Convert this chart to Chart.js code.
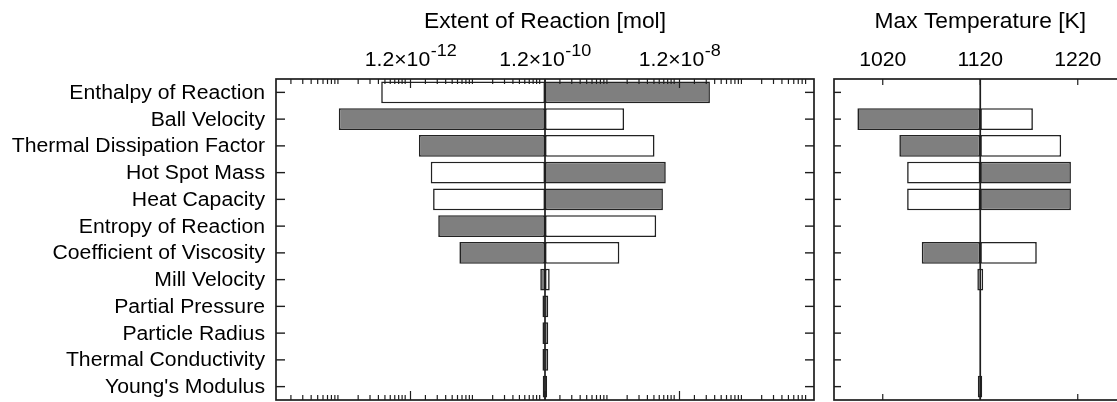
<!DOCTYPE html>
<html>
<head>
<meta charset="utf-8">
<script src="https://cdn.jsdelivr.net/npm/chart.js@4.4.0/dist/chart.umd.min.js"></script>
<style>
html, body { margin:0; padding:0; overflow:hidden; background:#fff; }
#wrap { position:relative; width:1117px; height:402px; overflow:hidden; }
#left { position:absolute; left:0; top:0; }
#right { position:absolute; left:822px; top:0; }
</style>
</head>
<body>
<div id="wrap">
<canvas id="left" width="822" height="402"></canvas>
<canvas id="right" width="320" height="402"></canvas>
</div>
<script>
// parametros (de cima para baixo)
const parametros = [
  "Enthalpy of Reaction", "Ball Velocity", "Thermal Dissipation Factor",
  "Hot Spot Mass", "Heat Capacity", "Entropy of Reaction",
  "Coefficient of Viscosity", "Mill Velocity", "Partial Pressure",
  "Particle Radius", "Thermal Conductivity", "Young's Modulus"
];

// Extent of Reaction [mol] - barras [inicio, fim]
const extentBase = 1.2e-10;
const extentGray = [
  [1.2e-10, 3.4e-8], [1.03e-13, 1.2e-10], [1.6e-12, 1.2e-10],
  [1.2e-10, 7.5e-9], [1.2e-10, 6.8e-9], [3.1e-12, 1.2e-10],
  [6.4e-12, 1.2e-10], [1.02e-10, 1.2e-10], [1.10e-10, 1.34e-10],
  [1.10e-10, 1.34e-10], [1.10e-10, 1.34e-10], [1.11e-10, 1.29e-10]
];
const extentWhite = [
  [4.4e-13, 1.2e-10], [1.2e-10, 1.8e-9], [1.2e-10, 5.1e-9],
  [2.4e-12, 1.2e-10], [2.6e-12, 1.2e-10], [1.2e-10, 5.4e-9],
  [1.2e-10, 1.53e-9], [1.2e-10, 1.41e-10], null,
  null, null, null
];
const extentTicks = [1.2e-12, 1.2e-10, 1.2e-8];
const extentTickLabels = [["1.2\u00d710", "-12"], ["1.2\u00d710", "-10"], ["1.2\u00d710", "-8"]];

// Max Temperature [K]
const tempBase = 1120;
const tempGray = [
  null, [994, 1120], [1037, 1120],
  [1120, 1213], [1120, 1213], null,
  [1060, 1120], null, null,
  null, null, [1117.5, 1122]
];
const tempWhite = [
  null, [1120, 1174], [1120, 1203],
  [1045, 1120], [1045, 1120], null,
  [1120, 1178], [1117, 1123], null,
  null, null, null
];
const tempTicks = [1020, 1120, 1220];
const tempTickLabels = [["1020", ""], ["1120", ""], ["1220", ""]];

const FONTE = '"Liberation Sans", Arial, sans-serif';
const SX = 1.06; // texto levemente alargado como na figura

function largura(ctx, str, size){
  ctx.font = size + "px " + FONTE;
  return ctx.measureText(str).width * SX;
}

function texto(ctx, str, x, y, size, align, baseline){
  const w = largura(ctx, str, size);
  let x0 = x;
  if (align === "center") x0 = x - w / 2;
  if (align === "right") x0 = x - w;
  ctx.save();
  ctx.font = size + "px " + FONTE;
  ctx.fillStyle = "#000";
  ctx.textAlign = "left";
  ctx.textBaseline = baseline || "alphabetic";
  ctx.translate(x0, y);
  ctx.scale(SX, 1);
  ctx.fillText(str, 0, 0);
  ctx.restore();
  return w;
}

function linha(ctx, x1, y1, x2, y2){
  ctx.beginPath();
  ctx.moveTo(x1, y1);
  ctx.lineTo(x2, y2);
  ctx.stroke();
}

// moldura, ticks para dentro, linha base e textos
const moldura = {
  id: "moldura",
  afterDatasetsDraw(chart, args, opts){
    const ctx = chart.ctx;
    const a = chart.chartArea;
    const x = chart.scales.x;
    const y = chart.scales.y;
    ctx.save();
    ctx.strokeStyle = "#1e1e1e";

    ctx.lineWidth = 1.7;
    const bx = x.getPixelForValue(opts.base);
    linha(ctx, bx, a.top, bx, a.bottom);

    ctx.lineWidth = 1.2;
    opts.xTicks.forEach(t => {
      const px = x.getPixelForValue(t.v);
      linha(ctx, px, a.top, px, a.top + t.len);
      linha(ctx, px, a.bottom, px, a.bottom - t.len);
    });

    ctx.lineWidth = 1.4;
    y.ticks.forEach((t, i) => {
      const py = y.getPixelForValue(i);
      linha(ctx, a.left, py, a.left + opts.yLen, py);
      linha(ctx, a.right, py, a.right - opts.yLen, py);
    });

    ctx.lineWidth = 1.7;
    ctx.strokeRect(a.left, a.top, a.right - a.left, a.bottom - a.top);
    ctx.restore();
  },
  afterDraw(chart, args, opts){
    const ctx = chart.ctx;
    const a = chart.chartArea;
    const x = chart.scales.x;
    const y = chart.scales.y;

    texto(ctx, opts.title, (a.left + a.right) / 2, 28, 21.5, "center");

    opts.tickValues.forEach((v, i) => {
      const px = x.getPixelForValue(v);
      const [base, exp] = opts.tickLabels[i];
      const w1 = largura(ctx, base, 20);
      const w2 = exp ? largura(ctx, exp, 17) : 0;
      const x0 = px - (w1 + w2) / 2;
      texto(ctx, base, x0, 66, 20, "left");
      if (exp) texto(ctx, exp, x0 + w1 + 0.5, 56, 17, "left");
    });

    if (opts.labels){
      chart.data.labels.forEach((lab, i) => {
        texto(ctx, lab, a.left - 11, y.getPixelForValue(i) + 1, 20, "right", "middle");
      });
    }
  }
};

function conjuntos(gray, white){
  const comum = {
    borderColor: "#222",
    borderWidth: 1.6,
    borderSkipped: false,
    grouped: false,
    barPercentage: 0.82,
    categoryPercentage: 1
  };
  return [
    Object.assign({ label: "gray", data: gray, backgroundColor: "#7f7f7f" }, comum),
    Object.assign({ label: "white", data: white, backgroundColor: "#ffffff" }, comum)
  ];
}

// ticks menores do eixo log
const menores = [];
for (let e = -14; e < -6; e++){
  for (let n = 1; n < 10; n++){
    const v = n * Math.pow(10, e);
    if (v > 1.25e-14 && v < 1.15e-6) menores.push({ v: v, len: 5 });
  }
}
const maioresExtent = extentTicks.map(v => ({ v: v, len: 9 }));

new Chart(document.getElementById("left"), {
  type: "bar",
  data: { labels: parametros, datasets: conjuntos(extentGray, extentWhite) },
  options: {
    responsive: false,
    animation: false,
    indexAxis: "y",
    layout: { padding: { left: 276, right: 8, top: 79, bottom: 2 } },
    scales: {
      x: { type: "logarithmic", min: 1.2e-14, max: 1.2e-6, display: false },
      y: { type: "category", display: false, offset: true }
    },
    plugins: {
      legend: { display: false },
      tooltip: { enabled: false },
      moldura: {
        base: extentBase,
        xTicks: menores.concat(maioresExtent),
        yLen: 9,
        title: "Extent of Reaction [mol]",
        tickValues: extentTicks,
        tickLabels: extentTickLabels,
        labels: true
      }
    }
  },
  plugins: [moldura]
});

new Chart(document.getElementById("right"), {
  type: "bar",
  data: { labels: parametros, datasets: conjuntos(tempGray, tempWhite) },
  options: {
    responsive: false,
    animation: false,
    indexAxis: "y",
    layout: { padding: { left: 12, right: 15.5, top: 79, bottom: 2 } },
    scales: {
      x: { type: "linear", min: 970, max: 1270, display: false },
      y: { type: "category", display: false, offset: true }
    },
    plugins: {
      legend: { display: false },
      tooltip: { enabled: false },
      moldura: {
        base: tempBase,
        xTicks: tempTicks.map(v => ({ v: v, len: 6 })),
        yLen: 7,
        title: "Max Temperature [K]",
        tickValues: tempTicks,
        tickLabels: tempTickLabels,
        labels: false
      }
    }
  },
  plugins: [moldura]
});
</script>
</body>
</html>
